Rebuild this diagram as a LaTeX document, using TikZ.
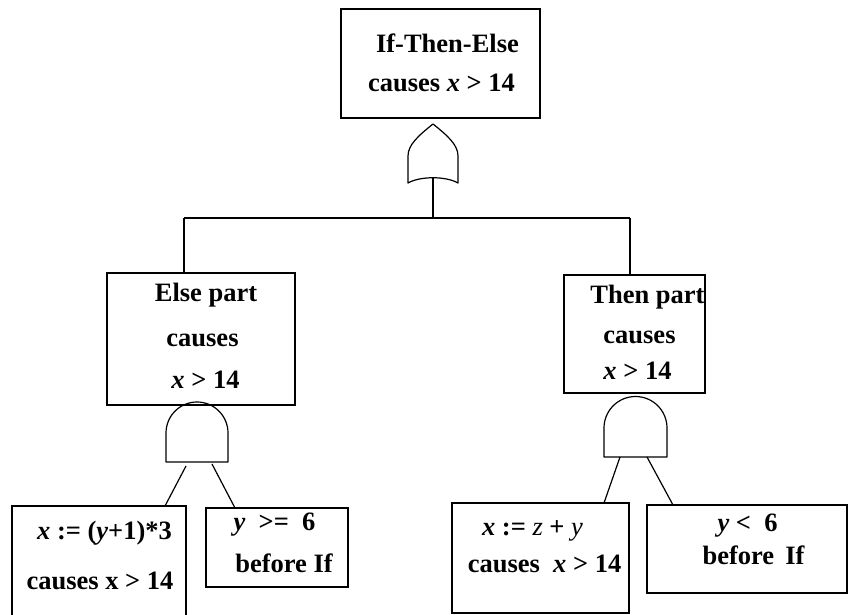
\documentclass[tikz,border=0pt]{standalone}
\usepackage{fontspec}
\setmainfont{Liberation Serif}
\begin{document}
\begin{tikzpicture}[x=1pt,y=-1pt,
  line width=1.2pt,
  box/.style={draw, rectangle, inner sep=0pt, outer sep=0pt, anchor=north west},
  lbl/.style={inner sep=0pt, font=\fontsize{26.5}{30}\selectfont\bfseries, anchor=center},
  gate/.style={draw, line join=round},
  wire/.style={draw}]
\clip (0,0) rectangle (849,615);
\fill[white] (0,0) rectangle (849,615);

% boxes
\node[box, minimum width=199pt, minimum height=109pt] (top)  at (341,9)   {};
\node[box, minimum width=188pt, minimum height=132pt] (else) at (107,273) {};
\node[box, minimum width=141pt, minimum height=118pt] (then) at (564,275) {};
\node[box, minimum width=174pt, minimum height=120pt] (ll)   at (12,506)  {};
\node[box, minimum width=142pt, minimum height=79pt]  (ge)   at (206,508) {};
\node[box, minimum width=177pt, minimum height=110pt] (lr)   at (452,503) {};
\node[box, minimum width=200pt, minimum height=88pt]  (lt)   at (647,505) {};

% labels
\node[lbl] (top1) at (447.5,43) {If-Then-Else};
\node[lbl] (top2) at (441.5,83) {causes {\itshape x} > 14};
\node[lbl] (el1) at (206,295) {Else part};
\node[lbl] (el2) at (202.5,340) {causes};
\node[lbl] (el3) at (205.5,380) {{\itshape x} > 14};
\node[lbl] (th1) at (647.5,297) {Then part};
\node[lbl] (th2) at (639.5,337) {causes};
\node[lbl] (th3) at (637.5,371) {{\itshape x} > 14};
\node[lbl] (ll1) at (104.5,533) {{\itshape x} := ({\itshape y}+1)*3};
\node[lbl] (ll2) at (100,581) {causes x > 14};
\node[lbl] (ge1) at (274.5,525) {{\itshape y}\ \ >=\ \ 6};
\node[lbl] (ge2) at (284,563) {before If};
\node[lbl] (lr1) at (532.5,531) {{\itshape x} := {\mdseries\itshape z} + {\mdseries\itshape y}};
\node[lbl] (lr2) at (544.5,564) {causes\ \ {\itshape x} > 14};
\node[lbl] (lt1) at (747.5,526) {{\itshape y} <\ \ 6};
\node[lbl] (lt2) at (753.5,555) {before\ \,If};

% OR gate
\coordinate (orTip) at (433,124);
\coordinate (orOut) at (433,178);
\path[gate] (orTip) .. controls (418,136) and (408,145) .. (408,156) -- (408,183)
  .. controls (420,176) and (446,176) .. (458,183) -- (458,156)
  .. controls (458,145) and (448,136) .. (orTip) -- cycle;

% bus
\coordinate (bus) at (433,218);
\coordinate (busL) at (184,218);
\coordinate (busR) at (630,218);
\path[wire] (orOut) -- (bus);
\path[wire] (busL) -- (busR);
\path[wire] (busL) -- (busL |- else.north);
\path[wire] (busR) -- (busR |- then.north);

% AND gate left
\path[gate] (166,462) -- (166,433) arc[start angle=180, end angle=0, radius=31pt] -- (228,462) -- cycle;
\coordinate (aL1) at (186,466);
\coordinate (aL2) at (212,464);
\path[wire] (aL1) -- (165,0 |- ll.north);
\path[wire] (aL2) -- (235,0 |- ge.north);

% AND gate right
\path[gate] (604,457) -- (604,428) arc[start angle=180, end angle=0, radius=31.5pt] -- (667,457) -- cycle;
\coordinate (aR1) at (620,457);
\coordinate (aR2) at (647,457);
\path[wire] (aR1) -- (604,0 |- lr.north);
\path[wire] (aR2) -- (673,0 |- lt.north);
\end{tikzpicture}
\end{document}
